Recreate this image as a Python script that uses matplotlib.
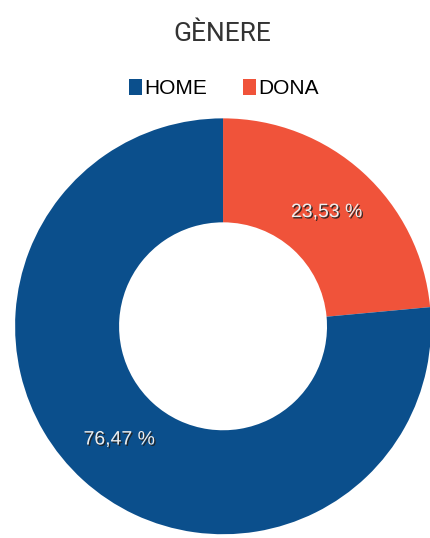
import matplotlib.pyplot as plt
import matplotlib.patheffects as pe
from matplotlib.patches import Patch

# Gender split
labels = ['HOME', 'DONA']
values = [76.47, 23.53]
colors = ['#0b4f8c', '#f0533a']

fig = plt.figure(figsize=(4.31, 5.38), dpi=100)
ax = fig.add_axes([0.035, 0.007, 0.965, 0.773])

# draw DONA first so it starts at 12 o'clock going clockwise
wedges, _, autotexts = ax.pie(
    values[::-1], colors=colors[::-1], startangle=90, counterclock=False,
    wedgeprops=dict(width=0.5, linewidth=0),
    autopct=lambda p: f'{p:.2f} %'.replace('.', ','), pctdistance=0.74,
)
for t in autotexts:
    t.set_color('#eeeeee')
    t.set_fontsize(14)
    t.set_family('Liberation Sans')
    t.set_path_effects([pe.withSimplePatchShadow(offset=(1, -1), shadow_rgbFace='#222222', alpha=0.9)])
ax.set_aspect('equal')
ax.set_xlim(-1, 1)
ax.set_ylim(-1, 1)

fig.text(0.516, 0.937, 'GÈNERE', ha='center', va='center', fontsize=19,
         color='#333333', family='Roboto')

handles = [Patch(facecolor=c, edgecolor='none') for c in colors]
fig.legend(handles, labels, loc='center', bbox_to_anchor=(0.52, 0.835), ncol=2,
           frameon=False, handlelength=0.6, handleheight=0.8, handletextpad=0.15,
           columnspacing=1.7, prop={'family': 'Liberation Sans', 'size': 15})

fig.savefig('out.png', dpi=100)
